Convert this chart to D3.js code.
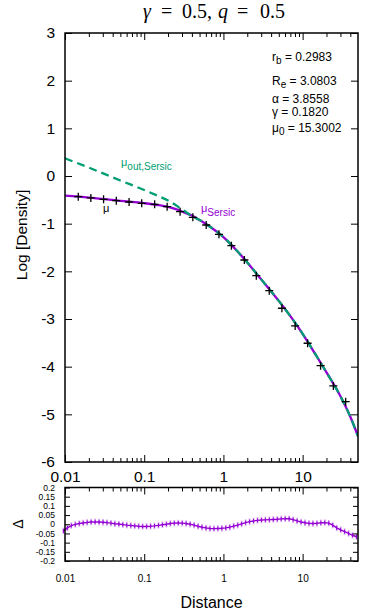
<!DOCTYPE html>
<html>
<head>
<meta charset="utf-8">
<script src="https://cdn.jsdelivr.net/npm/d3@7"></script>
<style>
  body { margin: 0; background: #fff; }
  text { font-family: "Liberation Sans", Arial, sans-serif; }
</style>
</head>
<body>
<div id="chart"></div>
<script>
// data points (black +)
const pointR = [0.0147, 0.0212, 0.0307, 0.0444, 0.0644, 0.0930, 0.1355, 0.1947, 0.2837, 0.411, 0.606,
  0.878, 1.261, 1.837, 2.601, 3.790, 5.474, 8.049, 11.56, 16.84, 24.41, 34.95];
const pointV = [-0.434, -0.461, -0.489, -0.518, -0.545, -0.573, -0.594, -0.644, -0.749, -0.866, -1.028,
  -1.223, -1.462, -1.762, -2.091, -2.406, -2.775, -3.146, -3.509, -3.979, -4.405, -4.734];

// model curves
const modelR = [0.01, 0.02, 0.05, 0.1, 0.15, 0.2, 0.3, 0.4, 0.5, 0.7, 1, 1.5, 2, 3, 4, 5, 7, 10, 15, 20, 30, 40, 50];
const sersicV = [-0.413, -0.453, -0.522, -0.570, -0.610, -0.650, -0.745, -0.830, -0.924, -1.080, -1.281, -1.579,
  -1.814, -2.169, -2.420, -2.620, -2.940, -3.310, -3.780, -4.120, -4.620, -5.050, -5.460];
const outSersicV = [0.370, 0.176, -0.094, -0.294, -0.420, -0.514, -0.700, -0.840, -0.925, -1.080, -1.281, -1.579,
  -1.814, -2.169, -2.420, -2.620, -2.940, -3.310, -3.780, -4.120, -4.620, -5.050, -5.460];

// residuals
const resR = [0.00955, 0.01072, 0.01202, 0.01349, 0.01514, 0.01698, 0.01905, 0.02138, 0.02399, 0.02692,
  0.03020, 0.03388, 0.03802, 0.04266, 0.04786, 0.05370, 0.06026, 0.06761, 0.07586, 0.08511,
  0.09550, 0.1072, 0.1202, 0.1349, 0.1514, 0.1698, 0.1905, 0.2138, 0.2399, 0.2692,
  0.3020, 0.3388, 0.3802, 0.4266, 0.4786, 0.5370, 0.6026, 0.6761, 0.7586, 0.8511,
  0.9550, 1.072, 1.202, 1.349, 1.514, 1.698, 1.905, 2.138, 2.399, 2.692,
  3.020, 3.388, 3.802, 4.266, 4.786, 5.370, 6.026, 6.761, 7.586, 8.511,
  9.550, 10.72, 12.02, 13.49, 15.14, 16.98, 19.05, 21.38, 23.99, 26.92,
  30.20, 33.88, 38.02, 42.66, 47.86];
const resV = [-0.036, -0.020, -0.007, -0.001, 0.004, 0.007, 0.010, 0.012, 0.013, 0.012,
  0.011, 0.009, 0.006, 0.003, 0.001, -0.002, -0.005, -0.007, -0.009, -0.011,
  -0.012, -0.012, -0.011, -0.009, -0.006, -0.003, 0.000, 0.004, 0.006, 0.007,
  0.006, 0.004, 0.000, -0.005, -0.011, -0.016, -0.020, -0.023, -0.024, -0.023,
  -0.022, -0.020, -0.016, -0.010, -0.005, 0.002, 0.009, 0.014, 0.018, 0.021,
  0.023, 0.024, 0.025, 0.026, 0.027, 0.029, 0.030, 0.030, 0.025, 0.018,
  0.012, 0.008, 0.005, 0.004, 0.005, 0.008, 0.009, 0.006, -0.005, -0.020,
  -0.030, -0.040, -0.050, -0.060, -0.068];

// ticks
const xMajor = [0.01, 0.1, 1, 10];
const xMinor = [0.02, 0.03, 0.04, 0.05, 0.06, 0.07, 0.08, 0.09, 0.2, 0.3, 0.4, 0.5, 0.6, 0.7, 0.8, 0.9,
  2, 3, 4, 5, 6, 7, 8, 9, 20, 30, 40];
const yMajor = [3, 2, 1, 0, -1, -2, -3, -4, -5, -6];
const resTicks = [0.2, 0.15, 0.1, 0.05, 0, -0.05, -0.1, -0.15, -0.2];

const W = 370, H = 613;
const pLeft = 65, pRight = 358, pTop = 33, pBottom = 462;
const rTop = 487.5, rBottom = 561;
const purple = '#9400d3', green = '#009e73';

const svg = d3.select('#chart').append('svg')
  .attr('width', W).attr('height', H);

const x = d3.scaleLog().domain([0.01, 50]).range([pLeft, pRight]);
const y = d3.scaleLinear().domain([-6, 3]).range([pBottom, pTop]);
const yr = d3.scaleLinear().domain([-0.2, 0.2]).range([rBottom, rTop]);

function frameAxes(yScale, yt, y0, y1, opts) {
  const g = svg.append('g');
  // bottom
  g.append('g').attr('transform', `translate(0,${y1})`)
    .call(d3.axisBottom(x).tickValues(xMajor).tickSize(-7).tickPadding(opts.xPad).tickFormat(d => String(d)))
    .call(s => s.selectAll('text').style('font-size', opts.xFont + 'px'));
  g.append('g').attr('transform', `translate(0,${y1})`)
    .call(d3.axisBottom(x).tickValues(xMinor).tickSize(-4).tickFormat(''));
  // top
  g.append('g').attr('transform', `translate(0,${y0})`)
    .call(d3.axisTop(x).tickValues(xMajor).tickSize(-7).tickFormat(''));
  g.append('g').attr('transform', `translate(0,${y0})`)
    .call(d3.axisTop(x).tickValues(xMinor).tickSize(-4).tickFormat(''));
  // left / right
  g.append('g').attr('transform', `translate(${pLeft},0)`)
    .call(d3.axisLeft(yScale).tickValues(yt).tickSize(-opts.yTick).tickPadding(opts.yPad).tickFormat(d => String(d)))
    .call(s => s.selectAll('text').style('font-size', opts.yFont + 'px'));
  g.append('g').attr('transform', `translate(${pRight},0)`)
    .call(d3.axisRight(yScale).tickValues(yt).tickSize(-opts.yTick).tickFormat(''));
  g.selectAll('.domain').remove();
  g.selectAll('.tick line').attr('stroke', '#000').attr('stroke-width', 1);
  g.selectAll('.tick text').attr('fill', '#000').style('font-family', '"Liberation Sans", Arial, sans-serif');
  g.append('rect').attr('x', pLeft).attr('y', y0).attr('width', pRight - pLeft).attr('height', y1 - y0)
    .attr('fill', 'none').attr('stroke', '#000').attr('stroke-width', 1.5);
}

svg.append('clipPath').attr('id', 'clip').append('rect')
  .attr('x', pLeft).attr('y', pTop).attr('width', pRight - pLeft).attr('height', pBottom - pTop);

// ----- main panel
const line = d3.line().x(d => x(d[0])).y(d => y(d[1])).curve(d3.curveMonotoneX);
const plot = svg.append('g').attr('clip-path', 'url(#clip)');

plot.append('path').datum(modelR.map((r, i) => [r, sersicV[i]]))
  .attr('d', line).attr('fill', 'none').attr('stroke', purple).attr('stroke-width', 2.3);
plot.append('path').datum(modelR.map((r, i) => [r, outSersicV[i]]))
  .attr('d', line).attr('fill', 'none').attr('stroke', green).attr('stroke-width', 2.3)
  .attr('stroke-dasharray', '8,5');

plot.selectAll('.pt').data(pointR.map((r, i) => [r, pointV[i]])).join('path')
  .attr('class', 'pt')
  .attr('transform', d => `translate(${x(d[0])},${y(d[1])})`)
  .attr('d', 'M-4,0H4M0,-4V4').attr('stroke', '#000').attr('stroke-width', 1.3);

frameAxes(y, yMajor, pTop, pBottom, { xPad: 9, xFont: 15.5, yPad: 10, yFont: 15.5, yTick: 7 });

// curve labels
const lab1 = svg.append('text').attr('x', 121).attr('y', 166).attr('fill', green).style('font-size', '11px');
lab1.append('tspan').text('μ');
lab1.append('tspan').attr('dy', 4).style('font-size', '10px').text('out,Sersic');

const lab2 = svg.append('text').attr('x', 201).attr('y', 212).attr('fill', purple).style('font-size', '11px');
lab2.append('tspan').text('μ');
lab2.append('tspan').attr('dy', 4).style('font-size', '10px').text('Sersic');

svg.append('text').attr('x', 103).attr('y', 212).attr('fill', '#000').style('font-size', '11px').text('μ');

// fit parameters
const params = [
  { main: 'r', sub: 'b', val: ' = 0.2983', y: 60.5 },
  { main: 'R', sub: 'e', val: ' = 3.0803', y: 85 },
  { main: 'α', sub: '', val: ' = 3.8558', y: 103 },
  { main: 'γ', sub: '', val: ' = 0.1820', y: 116 },
  { main: 'μ', sub: '0', val: ' = 15.3002', y: 131.5 }
];
params.forEach(p => {
  const t = svg.append('text').attr('x', 272).attr('y', p.y).style('font-size', '12px').attr('fill', '#000');
  t.append('tspan').text(p.main);
  if (p.sub) t.append('tspan').attr('dy', 3).style('font-size', '10px').text(p.sub);
  t.append('tspan').attr('dy', p.sub ? -3 : 0).text(p.val);
});

// title, laid out piece by piece like the math typesetting
const titleParts = [
  { t: 'γ', x: 143, it: true },
  { t: '=', x: 161, it: false },
  { t: '0.5,', x: 182, it: false },
  { t: 'q', x: 218, it: true },
  { t: '=', x: 237, it: false },
  { t: '0.5', x: 260, it: false }
];
svg.selectAll('.title').data(titleParts).join('text')
  .attr('class', 'title')
  .attr('x', d => d.x).attr('y', 18)
  .style('font-family', '"Liberation Serif", "DejaVu Serif", serif').style('font-size', '20px')
  .style('font-style', d => d.it ? 'italic' : 'normal')
  .text(d => d.t);

// y label
svg.append('text').attr('transform', 'translate(27,235) rotate(-90)').attr('text-anchor', 'middle')
  .style('font-size', '15.5px').text('Log [Density]');

// ----- residual panel
const rline = d3.line().x(d => x(d[0])).y(d => yr(d[1]));
const res = resR.map((r, i) => [r, resV[i]]);
const rg = svg.append('g');
rg.selectAll('.eb').data(res).join('line')
  .attr('x1', d => x(d[0])).attr('x2', d => x(d[0]))
  .attr('y1', d => yr(d[1]) - 3.2).attr('y2', d => yr(d[1]) + 3.2)
  .attr('stroke', purple).attr('stroke-opacity', 0.35).attr('stroke-width', 1.8);
rg.append('path').datum(res).attr('d', rline).attr('fill', 'none')
  .attr('stroke', purple).attr('stroke-width', 1.4);
rg.selectAll('.rp').data(res).join('line')
  .attr('x1', d => x(d[0])).attr('x2', d => x(d[0]))
  .attr('y1', d => yr(d[1]) - 2).attr('y2', d => yr(d[1]) + 2)
  .attr('stroke', purple).attr('stroke-width', 1);

frameAxes(yr, resTicks, rTop, rBottom, { xPad: 14, xFont: 10, yPad: 10, yFont: 8.5, yTick: 5 });

svg.append('text').attr('transform', 'translate(23,524) rotate(-90)').attr('text-anchor', 'middle')
  .style('font-size', '14px').text('Δ');

svg.append('text').attr('x', 211.5).attr('y', 608).attr('text-anchor', 'middle')
  .style('font-size', '16px').text('Distance');
</script>
</body>
</html>
